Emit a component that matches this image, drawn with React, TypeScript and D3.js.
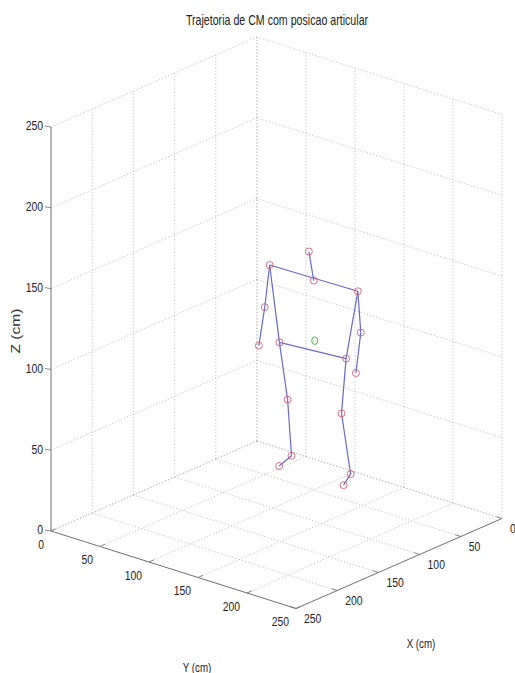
import React from "react";
import * as d3 from "d3";

// ---- data ----
const AXIS_TICKS = [0, 50, 100, 150, 200, 250];
const xTickLabels = ["0", "50", "100", "150", "200", "250"];
const yTickLabels = ["0", "50", "100", "150", "200", "250"];
const zTickLabels = ["0", "50", "100", "150", "200", "250"];

const jointNames = [
  "head", "neck", "lShoulder", "rShoulder", "lElbow", "rElbow", "lWrist", "rWrist",
  "lHip", "rHip", "lKnee", "rKnee", "lAnkle", "rAnkle", "lToe", "rToe",
];
const jointX = [12, 12, 12, 12, 12, 12, 12, 12, 12, 12, 14, 14, 14, 16, 29, 27];
const jointY = [63, 68, 23, 113, 18, 116, 12, 111, 33, 101, 43, 98, 47, 109, 47, 111];
const jointZ = [132, 115, 116, 117, 89, 92, 64, 66, 70, 73, 37, 39, 3, 4, 0, 0];

const segments: [string, string][] = [
  ["head", "neck"],
  ["lShoulder", "rShoulder"],
  ["lShoulder", "lElbow"], ["lElbow", "lWrist"],
  ["rShoulder", "rElbow"], ["rElbow", "rWrist"],
  ["lShoulder", "lHip"], ["rShoulder", "rHip"],
  ["lHip", "rHip"],
  ["lHip", "lKnee"], ["lKnee", "lAnkle"], ["lAnkle", "lToe"],
  ["rHip", "rKnee"], ["rKnee", "rAnkle"], ["rAnkle", "rToe"],
];

const cmX = [12];
const cmY = [69];
const cmZ = [78];

const title = "Trajetoria de CM com posicao articular";

// ---- projection (orthographic, built from linear scales) ----
const ORIGIN: [number, number] = [257, 441];
const xToSx = d3.scaleLinear().domain([0, 250]).range([0, -206]);
const xToSy = d3.scaleLinear().domain([0, 250]).range([0, 90]);
const yToSx = d3.scaleLinear().domain([0, 250]).range([0, 245]);
const yToSy = d3.scaleLinear().domain([0, 250]).range([0, 77.5]);
const zToSy = d3.scaleLinear().domain([0, 250]).range([0, -404]);

function proj(x: number, y: number, z: number): [number, number] {
  return [ORIGIN[0] + xToSx(x) + yToSx(y), ORIGIN[1] + xToSy(x) + yToSy(y) + zToSy(z)];
}

const FONT = "'Liberation Sans', Arial, Helvetica, sans-serif";
const GRID = "#b4b4b4";
const AXIS = "#707070";

function Line3({ a, b, stroke, dash, width }: { a: [number, number, number]; b: [number, number, number]; stroke: string; dash?: string; width?: number }) {
  const p = proj(...a);
  const q = proj(...b);
  return (
    <line x1={p[0]} y1={p[1]} x2={q[0]} y2={q[1]} stroke={stroke} strokeWidth={width ?? 0.8} strokeDasharray={dash} />
  );
}

function SText({ x, y, text, anchor, size, sx, fill, weight, rotate }: any) {
  const t = rotate ? `translate(${x},${y}) rotate(${rotate}) scale(${sx},1)` : `translate(${x},${y}) scale(${sx},1)`;
  return (
    <text transform={t} textAnchor={anchor} dominantBaseline="central" fontFamily={FONT} fontSize={size} fill={fill ?? "#222"} fontWeight={weight ?? "normal"}>
      {text}
    </text>
  );
}

export default function App() {
  const grid: React.ReactElement[] = [];
  const dash = "1.2,2";
  AXIS_TICKS.forEach((t, i) => {
    if (t !== 250) grid.push(<Line3 key={`lv${i}`} a={[t, 0, 0]} b={[t, 0, 250]} stroke={GRID} dash={dash} />);
    grid.push(<Line3 key={`lh${i}`} a={[0, 0, t]} b={[250, 0, t]} stroke={GRID} dash={dash} />);
    grid.push(<Line3 key={`rv${i}`} a={[0, t, 0]} b={[0, t, 250]} stroke={GRID} dash={dash} />);
    grid.push(<Line3 key={`rh${i}`} a={[0, 0, t]} b={[0, 250, t]} stroke={GRID} dash={dash} />);
    if (t !== 250) grid.push(<Line3 key={`fx${i}`} a={[t, 0, 0]} b={[t, 250, 0]} stroke={GRID} dash={dash} />);
    if (t !== 250) grid.push(<Line3 key={`fy${i}`} a={[0, t, 0]} b={[250, t, 0]} stroke={GRID} dash={dash} />);
  });

  const idx = (n: string) => jointNames.indexOf(n);
  const pts = jointNames.map((_, i) => proj(jointX[i], jointY[i], jointZ[i]));
  const cm = proj(cmX[0], cmY[0], cmZ[0]);

  const tickLen = 6;
  const ticks: React.ReactElement[] = [];
  const labels: React.ReactElement[] = [];
  AXIS_TICKS.forEach((t, i) => {
    const pz = proj(250, 0, t);
    ticks.push(<line key={`zt${i}`} x1={pz[0]} y1={pz[1]} x2={pz[0] - tickLen} y2={pz[1] - 1} stroke={AXIS} strokeWidth={0.8} />);
    labels.push(<SText key={`zl${i}`} x={pz[0] - 8} y={pz[1] - 1} text={zTickLabels[i]} anchor="end" size={13.5} sx={0.77} />);
    const py = proj(250, t, 0);
    ticks.push(<line key={`yt${i}`} x1={py[0]} y1={py[1]} x2={py[0] + 0.82 * tickLen} y2={py[1] - 0.36 * tickLen} stroke={AXIS} strokeWidth={0.8} />);
    labels.push(<SText key={`yl${i}`} x={py[0] - 7} y={py[1] + 13.5} text={yTickLabels[i]} anchor="end" size={13.5} sx={0.77} />);
    const px = proj(t, 250, 0);
    ticks.push(<line key={`xt${i}`} x1={px[0]} y1={px[1]} x2={px[0] - 0.95 * tickLen} y2={px[1] - 0.3 * tickLen} stroke={AXIS} strokeWidth={0.8} />);
    labels.push(<SText key={`xl${i}`} x={px[0] + 8} y={px[1] + 10} text={xTickLabels[i]} anchor="start" size={13.5} sx={0.77} />);
  });

  return (
    <svg width={515} height={673} style={{ position: "absolute", left: 0, top: 0, background: "#fff" }}>
      <rect x={0} y={0} width={515} height={673} fill="#fff" />
      <g>{grid}</g>
      <Line3 a={[250, 0, 0]} b={[250, 0, 250]} stroke={AXIS} width={1} />
      <Line3 a={[250, 0, 0]} b={[250, 250, 0]} stroke={AXIS} width={1} />
      <Line3 a={[250, 250, 0]} b={[0, 250, 0]} stroke={AXIS} width={1} />
      <g>{ticks}</g>
      <g>{labels}</g>
      <g>
        {segments.map(([a, b], i) => {
          const p = pts[idx(a)];
          const q = pts[idx(b)];
          return <line key={`s${i}`} x1={p[0]} y1={p[1]} x2={q[0]} y2={q[1]} stroke="#6a6ac8" strokeWidth={1.2} />;
        })}
        {pts.map((p, i) => (
          <circle key={`j${i}`} cx={p[0]} cy={p[1]} r={3.5} fill="none" stroke="#d0607c" strokeWidth={0.9} />
        ))}
        <ellipse cx={cm[0]} cy={cm[1]} rx={3} ry={3.8} fill="none" stroke="#44bb44" strokeWidth={1} />
      </g>
      <SText x={277} y={20} text={title} anchor="middle" size={14} sx={0.76} />
      <SText x={421} y={643} text="X (cm)" anchor="middle" size={13} sx={0.75} />
      <SText x={197} y={667} text="Y (cm)" anchor="middle" size={13} sx={0.75} />
      <SText x={15} y={331} text="Z (cm)" anchor="middle" size={13} sx={1.2} fill="#333" rotate={-90} />
    </svg>
  );
}
